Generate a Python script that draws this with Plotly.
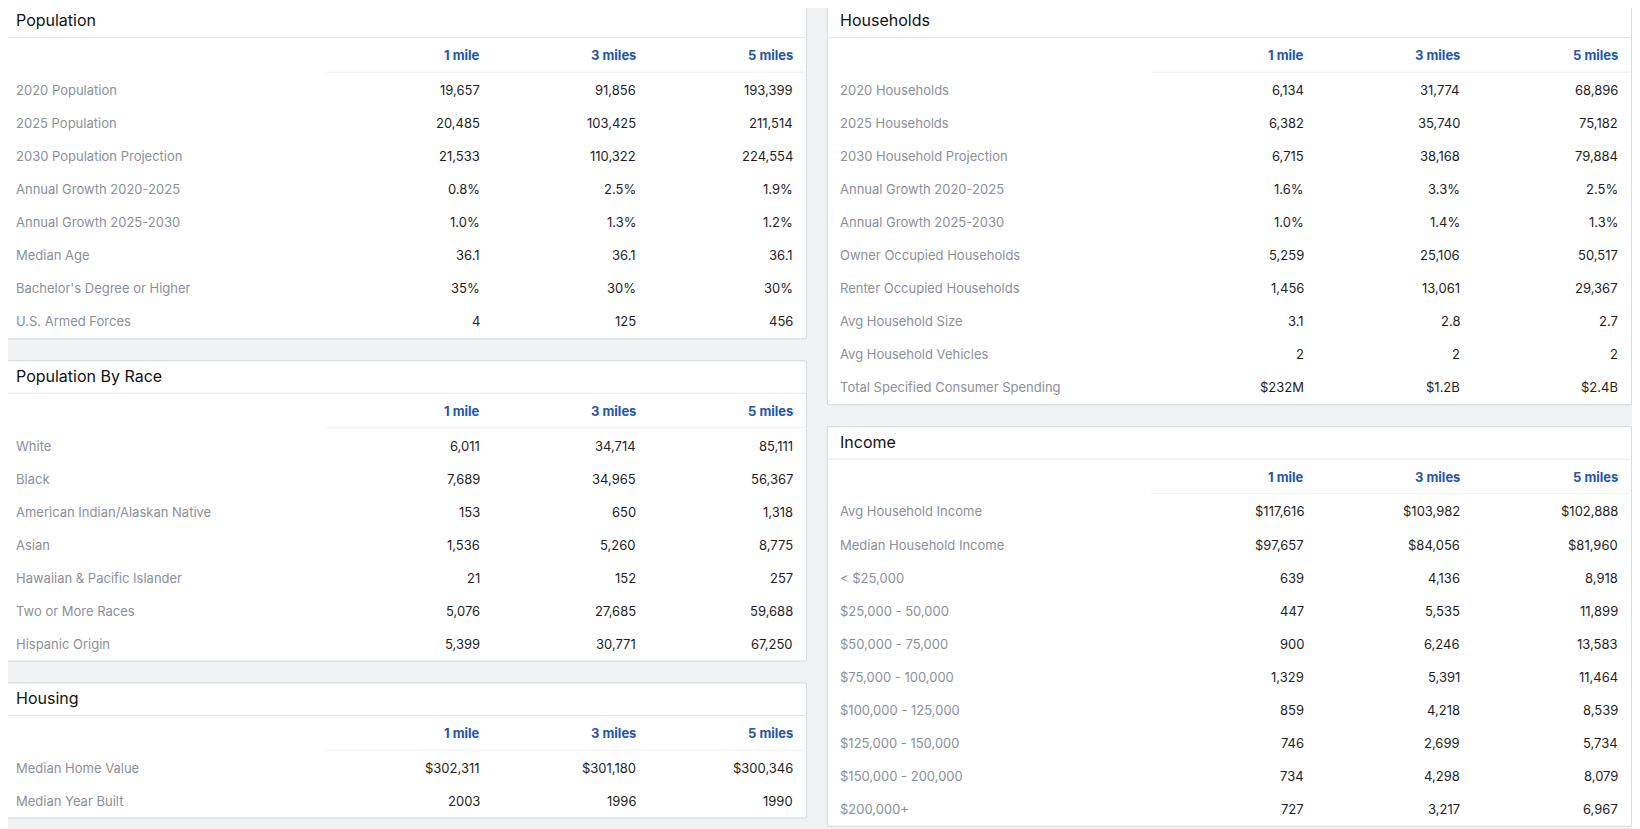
import plotly.graph_objects as go

S = 1640 / 1568
OFF = 8  # page body margin in the browser
radii = ["1 mile", "3 miles", "5 miles"]

pop_labels = ["2020 Population", "2025 Population", "2030 Population Projection", "Annual Growth 2020-2025",
              "Annual Growth 2025-2030", "Median Age", "Bachelor's Degree or Higher", "U.S. Armed Forces"]
pop_1 = ["19,657", "20,485", "21,533", "0.8%", "1.0%", "36.1", "35%", "4"]
pop_3 = ["91,856", "103,425", "110,322", "2.5%", "1.3%", "36.1", "30%", "125"]
pop_5 = ["193,399", "211,514", "224,554", "1.9%", "1.2%", "36.1", "30%", "456"]

race_labels = ["White", "Black", "American Indian/Alaskan Native", "Asian", "Hawaiian & Pacific Islander",
               "Two or More Races", "Hispanic Origin"]
race_1 = ["6,011", "7,689", "153", "1,536", "21", "5,076", "5,399"]
race_3 = ["34,714", "34,965", "650", "5,260", "152", "27,685", "30,771"]
race_5 = ["85,111", "56,367", "1,318", "8,775", "257", "59,688", "67,250"]

hous_labels = ["Median Home Value", "Median Year Built"]
hous_1 = ["$302,311", "2003"]
hous_3 = ["$301,180", "1996"]
hous_5 = ["$300,346", "1990"]

hh_labels = ["2020 Households", "2025 Households", "2030 Household Projection", "Annual Growth 2020-2025",
             "Annual Growth 2025-2030", "Owner Occupied Households", "Renter Occupied Households",
             "Avg Household Size", "Avg Household Vehicles", "Total Specified Consumer Spending"]
hh_1 = ["6,134", "6,382", "6,715", "1.6%", "1.0%", "5,259", "1,456", "3.1", "2", "$232M"]
hh_3 = ["31,774", "35,740", "38,168", "3.3%", "1.4%", "25,106", "13,061", "2.8", "2", "$1.2B"]
hh_5 = ["68,896", "75,182", "79,884", "2.5%", "1.3%", "50,517", "29,367", "2.7", "2", "$2.4B"]

inc_labels = ["Avg Household Income", "Median Household Income", "< $25,000", "$25,000 - 50,000",
              "$50,000 - 75,000", "$75,000 - 100,000", "$100,000 - 125,000", "$125,000 - 150,000",
              "$150,000 - 200,000", "$200,000+"]
inc_1 = ["$117,616", "$97,657", "639", "447", "900", "1,329", "859", "746", "734", "727"]
inc_3 = ["$103,982", "$84,056", "4,136", "5,535", "6,246", "5,391", "4,218", "2,699", "4,298", "3,217"]
inc_5 = ["$102,888", "$81,960", "8,918", "11,899", "13,583", "11,464", "8,539", "5,734", "8,079", "6,967"]

panels = [
    dict(title="Population", x0=3, x1=771, y0=5, y1=324, labels=pop_labels, cols=[pop_1, pop_3, pop_5]),
    dict(title="Population By Race", x0=3, x1=771, y0=345, y1=632, labels=race_labels, cols=[race_1, race_3, race_5]),
    dict(title="Housing", x0=3, x1=771, y0=653, y1=782, labels=hous_labels, cols=[hous_1, hous_3, hous_5]),
    dict(title="Households", x0=791, x1=1560, y0=5, y1=387, labels=hh_labels, cols=[hh_1, hh_3, hh_5]),
    dict(title="Income", x0=791, x1=1560, y0=408, y1=790, labels=inc_labels, cols=[inc_1, inc_3, inc_5]),
]

def X(v):
    return v * S - OFF

def Y(v):
    return v * S - OFF

FONT = "Inter, Roboto, sans-serif"
shapes, ann = [], []
for p in panels:
    x0, x1, y0, y1 = p["x0"], p["x1"], p["y0"], p["y1"]
    shapes.append(dict(type="rect", x0=X(x0), x1=X(x1), y0=Y(y0), y1=Y(y1), xref="x", yref="y",
                       fillcolor="white", line=dict(color="#d4d6da", width=1), layer="below"))
    shapes.append(dict(type="line", x0=X(x0), x1=X(x1), y0=Y(y0+31), y1=Y(y0+31), xref="x", yref="y",
                       line=dict(color="#e3e5e8", width=1)))
    shapes.append(dict(type="line", x0=X(x0+309), x1=X(x1), y0=Y(y0+64), y1=Y(y0+64), xref="x", yref="y",
                       line=dict(color="#eceef0", width=1)))
    ann.append(dict(x=X(x0+10), y=Y(y0+14.5), text=p["title"], xanchor="left", yanchor="middle",
                    showarrow=False, font=dict(family=FONT, size=16, color="#111")))
    colx = [x0+458, x0+607, x1-11]
    for cx, r in zip(colx, radii):
        ann.append(dict(x=X(cx), y=Y(y0+48), text=f"<b>{r}</b>", xanchor="right", yanchor="middle",
                        showarrow=False, font=dict(family=FONT, size=13, color="#2556a5")))
    for i, lab in enumerate(p["labels"]):
        yy = Y(y0 + 81 + i*31.6)
        ann.append(dict(x=X(x0+10), y=yy, text=lab, xanchor="left", yanchor="middle", showarrow=False,
                        font=dict(family=FONT, size=13, color="#8b9098")))
        for cx, col in zip(colx, p["cols"]):
            ann.append(dict(x=X(cx), y=yy, text=col[i], xanchor="right", yanchor="middle", showarrow=False,
                            font=dict(family=FONT, size=13, color="#1e1e1e")))

fig = go.Figure()
fig.update_layout(
    width=1640, height=829, margin=dict(l=0, r=0, t=0, b=0),
    paper_bgcolor="#f1f2f4", plot_bgcolor="#f1f2f4",
    xaxis=dict(range=[0, 1640], visible=False, fixedrange=True),
    yaxis=dict(range=[829, 0], visible=False, fixedrange=True),
    shapes=shapes, annotations=ann, showlegend=False,
)
fig.write_html("out.html")
